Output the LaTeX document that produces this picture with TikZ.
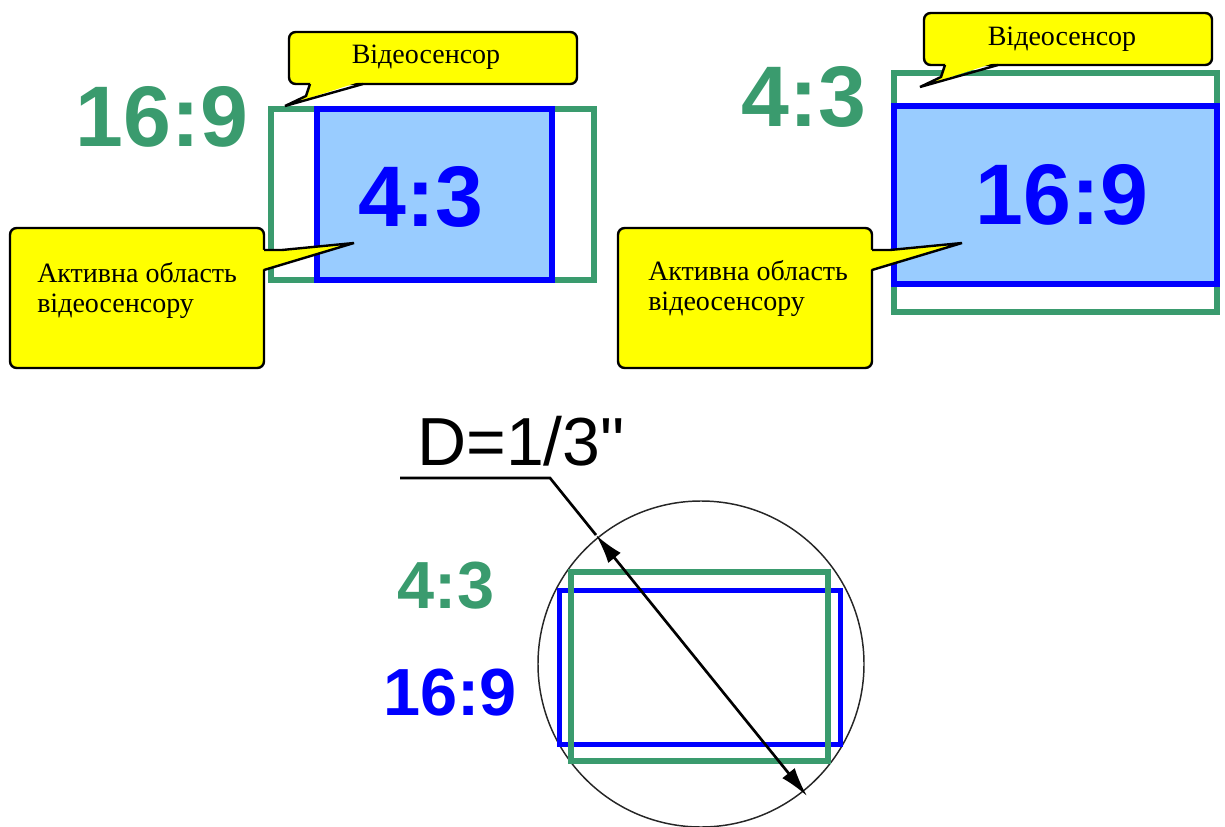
\documentclass[tikz,border=0pt]{standalone}
\usepackage{fontspec}
\setmainfont{Liberation Serif}
\newfontfamily\arialfont{Liberation Sans}
\usetikzlibrary{arrows.meta}
\definecolor{grn}{RGB}{58,155,110}
\definecolor{blu}{RGB}{0,0,255}
\definecolor{lblue}{RGB}{153,204,255}
\definecolor{yel}{RGB}{255,255,0}
\tikzset{
  greenrect/.style={draw=grn, line width=4.5pt},
  bluerect/.style={draw=blu, line width=5pt},
  greenthin/.style={draw=grn, line width=3.8pt},
  bluethin/.style={draw=blu, line width=3.8pt},
  bigbold/.style={font=\arialfont\bfseries\fontsize{64.5}{70}\selectfont, inner sep=0pt, anchor=base},
  midbold/.style={font=\arialfont\bfseries\fontsize{50}{56}\selectfont, inner sep=0pt, anchor=base},
  dimtext/.style={font=\arialfont\fontsize{51}{56}\selectfont, inner sep=0pt, anchor=base},
  calltext/.style={font=\fontsize{21}{25}\selectfont, inner sep=0pt},
  callbox/.style={draw=black, fill=yel, line width=1.8pt, rounded corners=5pt},
  callline/.style={draw=black, line width=1.8pt, line join=miter},
  dimline/.style={draw=black, line width=2pt},
}
\begin{document}
\begin{tikzpicture}[x=0.75pt,y=-0.75pt]
\useasboundingbox (0,0) rectangle (1225,827);

% ---------- top-left panel ----------
\draw[greenrect] (271,109) rectangle (594,280);
\draw[bluerect, fill=lblue] (317,109) rectangle (552,280);
\node[bigbold, text=grn] (tlA) at (162,147) {16:9};
\node[bigbold, text=blu] (tlB) at (421,227) {4:3};

% callout "Відеосенсор" (top-left)
\draw[callbox] (289,32) rectangle (577,84);
\fill[yel] (311,81) -- (306,96) -- (285,106) -- (362,81) -- cycle;
\draw[callline] (310,84) -- (306,96) -- (285,106) -- (363,84);
\node[calltext, anchor=base] (tlV) at (426,64) {Відеосенсор};

% callout "Активна область" (top-left)
\draw[callbox] (10,228) rectangle (264,368);
\fill[yel] (261,250) -- (282,250) -- (354,243) -- (261,270) -- cycle;
\draw[callline] (264,250) -- (282,250) -- (354,243) -- (264,270);
\node[calltext, anchor=base west] (tlK1) at (37,283) {Активна область};
\node[calltext, anchor=base west] (tlK2) at (37,313) {відеосенсору};

% ---------- top-right panel ----------
\draw[greenrect] (894,73) rectangle (1217,312);
\draw[bluerect, fill=lblue] (894,106) rectangle (1217,284);
\node[bigbold, text=grn] (trA) at (804,127) {4:3};
\node[bigbold, text=blu] (trB) at (1062,225) {16:9};

% callout "Відеосенсор" (top-right)
\draw[callbox] (924,13) rectangle (1212,65);
\fill[yel] (946,62) -- (941,77) -- (920,87) -- (997,62) -- cycle;
\draw[callline] (945,65) -- (941,77) -- (920,87) -- (998,65);
\node[calltext, anchor=base] (trV) at (1062,46) {Відеосенсор};

% callout "Активна область" (top-right)
\draw[callbox] (618,228) rectangle (872,368);
\fill[yel] (869,250) -- (890,250) -- (962,243) -- (869,270) -- cycle;
\draw[callline] (872,250) -- (890,250) -- (962,243) -- (872,270);
\node[calltext, anchor=base west] (trK1) at (648,281) {Активна область};
\node[calltext, anchor=base west] (trK2) at (648,311) {відеосенсору};

% ---------- bottom panel ----------
\node[draw=black!85, line width=1.1pt, circle, minimum size=326*0.75pt, inner sep=0pt] (circ) at (701,664) {};
\draw[bluethin] (559.5,590.5) rectangle (840.5,744.5);
\draw[greenthin] (571,572) rectangle (828,761);
\node[midbold, text=grn] (bA) at (446,608) {4:3};
\node[midbold, text=blu] (bB) at (450,715) {16:9};
\node[dimtext] (dtext) at (521,465) {D=1/3"};
\coordinate (lstart) at (400,478);
\coordinate (lknee) at (550,478);
\coordinate (p1) at (596,535);
\coordinate (p2) at (807,796);
\draw[dimline] (lstart) -- (lknee) -- (p1);
\draw[dimline, {Latex[length=22pt,width=12pt]}-{Latex[length=22pt,width=12pt]}] (p1) -- (p2);
\end{tikzpicture}
\end{document}
